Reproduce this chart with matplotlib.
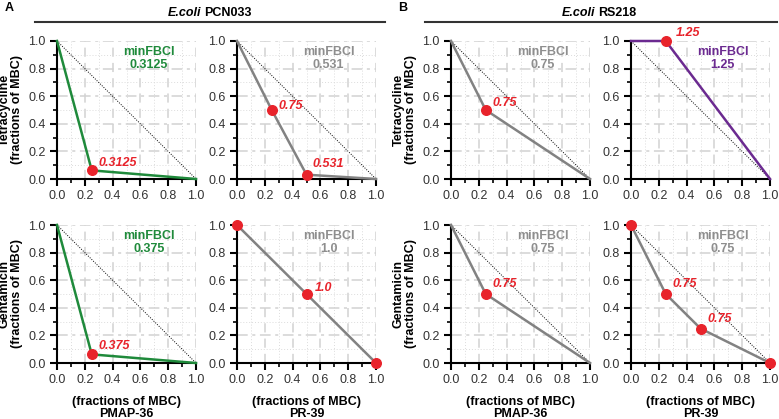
import numpy as np
import matplotlib
matplotlib.use("Agg")
import matplotlib.pyplot as plt
from matplotlib.ticker import MultipleLocator

plt.rcParams['font.family'] = ['Liberation Sans', 'DejaVu Sans']

# isobologram points (x = peptide fraction of MBC, y = antibiotic fraction of MBC)
# order: A-Tet-PMAP, A-Tet-PR39, B-Tet-PMAP, B-Tet-PR39, A-Gen-PMAP, A-Gen-PR39, B-Gen-PMAP, B-Gen-PR39
line_x = [[0, 0.25, 1], [0, 0.25, 0.5, 1], [0, 0.25, 1], [0, 0.25, 1],
          [0, 0.25, 1], [0, 0.5, 1], [0, 0.25, 1], [0, 0.25, 0.5, 1]]
line_y = [[1, 0.0625, 0], [1, 0.5, 0.03125, 0], [1, 0.5, 0], [1, 1, 0],
          [1, 0.0625, 0], [1, 0.5, 0], [1, 0.5, 0], [1, 0.5, 0.25, 0]]
dot_x = [[0.25], [0.25, 0.5], [0.25], [0.25],
         [0.25], [0, 0.5, 1], [0.25], [0, 0.25, 0.5, 1]]
dot_y = [[0.0625], [0.5, 0.03125], [0.5], [1],
         [0.0625], [1, 0.5, 0], [0.5], [1, 0.5, 0.25, 0]]
# FBCI labels next to points (index into dots)
fbci_idx = [[0], [0, 1], [0], [0], [0], [1], [0], [1, 2]]
fbci_txt = [["0.3125"], ["0.75", "0.531"], ["0.75"], ["1.25"],
            ["0.375"], ["1.0"], ["0.75"], ["0.75"]*2]
fbci_off = [[(0.045, 0.05)], [(0.05, 0.03), (0.04, 0.08)], [(0.05, 0.05)], [(0.07, 0.06)],
            [(0.045, 0.06)], [(0.06, 0.04)], [(0.05, 0.07)], [(0.05, 0.07), (0.05, 0.07)]]
min_fbci = ["0.3125", "0.531", "0.75", "1.25", "0.375", "1.0", "0.75", "0.75"]

GREEN = '#1f8a3b'
GRAY = '#828282'
PURPLE = '#6b2a90'
RED = '#e8232b'
colors = [GREEN, GRAY, GRAY, PURPLE, GREEN, GRAY, GRAY, GRAY]
text_colors = [GREEN, '#8e8e8e', '#8e8e8e', PURPLE, GREEN, '#8e8e8e', '#8e8e8e', '#8e8e8e']

antibiotics = ["Tetracycline", "Gentamicin"]
peptides = ["PMAP-36", "PR-39", "PMAP-36", "PR-39"]

W, H = 779, 419
fig = plt.figure(figsize=(W / 100, H / 100), dpi=100)

col_left = [57, 237, 451, 631]
row_bottom = [179, 363]
size = 139

for k in range(8):
    r, c = divmod(k, 4)
    ax = fig.add_axes([col_left[c] / W, 1 - row_bottom[r] / H, size / W, 138 / H])
    ax.set_xlim(0, 1)
    ax.set_ylim(0, 1)
    for s in ['top', 'right']:
        ax.spines[s].set_visible(False)
    for s in ['left', 'bottom']:
        ax.spines[s].set_linewidth(1.5)
    ax.xaxis.set_major_locator(MultipleLocator(0.2))
    ax.yaxis.set_major_locator(MultipleLocator(0.2))
    ax.xaxis.set_minor_locator(MultipleLocator(0.1))
    ax.yaxis.set_minor_locator(MultipleLocator(0.1))
    ax.tick_params(which='major', length=5, width=1.5, labelsize=9, labelcolor='#333333', pad=3)
    ax.tick_params(which='minor', length=3, width=1.2)
    ax.set_xticklabels([f"{v:.1f}" for v in ax.get_xticks()])
    ax.set_yticklabels([f"{v:.1f}" for v in ax.get_yticks()])
    ax.grid(True, axis='x', which='major', color='#d2d2d2', lw=1.1, linestyle=(0, (6, 4)))
    ax.grid(True, axis='y', which='major', color='#d2d2d2', lw=1.1, linestyle=(0, (7, 3, 2, 3)))
    ax.grid(True, which='minor', color='#dcdcdc', lw=0.7, linestyle=(0, (1, 2)))
    ax.set_axisbelow(True)

    ax.plot([0, 1], [1, 0], color='black', lw=0.7, linestyle=(0, (1, 1.5)), zorder=2)
    ax.plot(line_x[k], line_y[k], color=colors[k], lw=1.8, zorder=3, clip_on=False)
    ax.scatter(dot_x[k], dot_y[k], s=48, color=RED, zorder=4, clip_on=False)
    for i, t, (dx, dy) in zip(fbci_idx[k], fbci_txt[k], fbci_off[k]):
        ax.text(dot_x[k][i] + dx, dot_y[k][i] + dy, t, color=RED, fontsize=9,
                fontweight='bold', fontstyle='italic', ha='left', va='center', zorder=5)
    ax.text(0.66, 0.87, "minFBCI\n" + min_fbci[k], color=text_colors[k], fontsize=9,
            fontweight='bold', ha='center', va='center', linespacing=1.1)

    if c in (0, 2):
        ax.set_ylabel(antibiotics[r] + "\n(fractions of MBC)", fontsize=9,
                      fontweight='bold', labelpad=4, linespacing=1.0)
    if r == 1:
        ax.set_xlabel("(fractions of MBC)\n" + peptides[c], fontsize=9,
                      fontweight='bold', labelpad=7, linespacing=1.05)

# panel headers
fig.text(5 / W, 1 - 8 / H, "A", fontsize=9, fontweight='bold', ha='left', va='center')
fig.text(398 / W, 1 - 8 / H, "B", fontsize=9, fontweight='bold', ha='left', va='center')
fig.text(201 / W, 1 - 13 / H, "E.coli", fontsize=9, fontweight='bold', fontstyle='italic',
         ha='right', va='center')
fig.text(204 / W, 1 - 13 / H, "PCN033", fontsize=9, fontweight='bold', ha='left', va='center')
fig.text(595 / W, 1 - 13 / H, "E.coli", fontsize=9, fontweight='bold', fontstyle='italic',
         ha='right', va='center')
fig.text(598 / W, 1 - 13 / H, "RS218", fontsize=9, fontweight='bold', ha='left', va='center')
fig.add_artist(plt.Line2D([35 / W, 385 / W], [1 - 22 / H, 1 - 22 / H], color='#333333', lw=1.5))
fig.add_artist(plt.Line2D([425 / W, 777 / W], [1 - 22 / H, 1 - 22 / H], color='#333333', lw=1.5))

fig.savefig("out.png", dpi=100)
